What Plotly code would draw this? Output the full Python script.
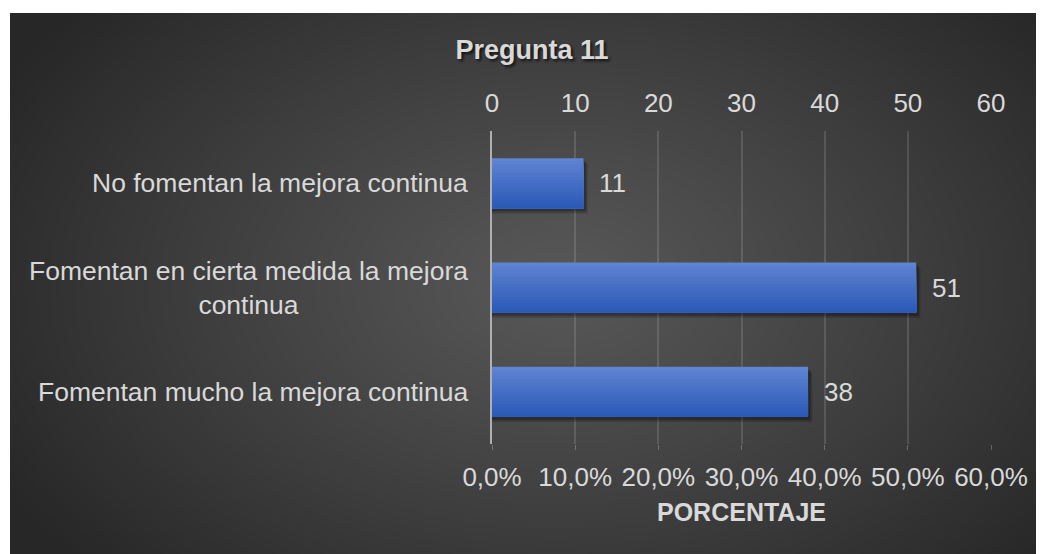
import base64
import struct
import zlib

import numpy as np
import plotly.graph_objects as go

categories = [
    "No fomentan la mejora continua",
    "Fomentan en cierta medida la mejora<br>continua",
    "Fomentan mucho la mejora continua",
]
values = [11, 51, 38]
top_ticks = [0, 10, 20, 30, 40, 50, 60]
bottom_labels = ["0,0%", "10,0%", "20,0%", "30,0%", "40,0%", "50,0%", "60,0%"]

# the page body adds an 8px margin, so work in shifted pixels
OFF = 8
W, H = 1044 - OFF, 554 - OFF
# plot area in pixels
L, R, T, B = 492 - OFF, 991 - OFF, 131 - OFF, 444 - OFF
# dark panel in pixels
PX0, PY0 = 10 - OFF, 13 - OFF
TXT = "#d9d9d9"
FONT = "Liberation Sans, Arial, sans-serif"


def gradient_png(w, h):
    """radial grey gradient, returned as data uri"""
    yy, xx = np.mgrid[0:h, 0:w].astype(float)
    d = np.sqrt(((xx - w * 0.53) / (w * 0.62)) ** 2 + ((yy - h * 0.5) / (h * 0.78)) ** 2)
    d = np.clip(d, 0, 1)
    img = (0x58 - (0x58 - 0x27) * d ** 1.1).astype(np.uint8)
    raw = b"".join(b"\x00" + img[r].tobytes() for r in range(h))

    def chunk(tag, data):
        c = struct.pack(">I", len(data)) + tag + data
        return c + struct.pack(">I", zlib.crc32(tag + data) & 0xFFFFFFFF)

    png = b"\x89PNG\r\n\x1a\n"
    png += chunk(b"IHDR", struct.pack(">IIBBBBB", w, h, 8, 0, 0, 0, 0))
    png += chunk(b"IDAT", zlib.compress(raw, 9))
    png += chunk(b"IEND", b"")
    return "data:image/png;base64," + base64.b64encode(png).decode()


pw, ph = R - L, B - T
fig = go.Figure()

bar_w = 0.48

# soft shadow under the bars
for dy, dx, a in [(0.05, 0.5, 0.18), (0.03, 0.3, 0.25)]:
    fig.add_trace(go.Bar(
        x=[v + dx for v in values], y=categories, orientation="h",
        width=bar_w, offset=-bar_w / 2 + dy,
        marker=dict(color=f"rgba(0,0,0,{a})", line_width=0),
        hoverinfo="skip", showlegend=False,
    ))

# vertical gradient: each layer runs from its start down to the bar bottom
n = 16
c_top = np.array([0x5E, 0x84, 0xD2])
c_bot = np.array([0x2C, 0x5A, 0xB8])
for i in range(n):
    t = i / (n - 1)
    c = (c_top * (1 - t) + c_bot * t).astype(int)
    fig.add_trace(go.Bar(
        x=values, y=categories, orientation="h",
        width=bar_w - i * bar_w / n, offset=-bar_w / 2 + i * bar_w / n,
        marker=dict(color=f"rgb({c[0]},{c[1]},{c[2]})", line_width=0),
        hovertemplate="%{y}: %{x}<extra></extra>", showlegend=False,
    ))

# invisible trace to drive the top axis
fig.add_trace(go.Scatter(x=top_ticks, y=[categories[0]] * len(top_ticks),
                         xaxis="x2", mode="markers", marker=dict(opacity=0),
                         hoverinfo="skip", showlegend=False))

for cat, v in zip(categories, values):
    fig.add_annotation(x=v, y=cat, text=str(v), showarrow=False,
                       xanchor="left", xshift=14,
                       font=dict(family=FONT, size=26, color=TXT))
    fig.add_annotation(x=0, xref="paper", y=cat, text=cat, showarrow=False,
                       xanchor="right", xshift=-22, align="center",
                       font=dict(family=FONT, size=26.5, color=TXT))

fig.add_layout_image(
    source=gradient_png(W - PX0, H - PY0),
    xref="paper", yref="paper",
    x=(PX0 - L) / pw, y=(B - PY0) / ph,
    sizex=(W - PX0) / pw, sizey=(H - PY0) / ph,
    xanchor="left", yanchor="top", sizing="stretch", layer="below",
)

fig.update_layout(
    width=W, height=H,
    margin=dict(l=L, r=W - R, t=T, b=H - B),
    paper_bgcolor="white", plot_bgcolor="rgba(0,0,0,0)",
    barmode="overlay",
    title=dict(text="<b>Pregunta 11</b>", x=(532 - OFF) / W, y=1 - (50 - OFF) / H,
               xref="container", yref="container", xanchor="center", yanchor="middle",
               font=dict(family=FONT, size=27, color=TXT,
                         shadow="2px 2px 3px rgba(0,0,0,0.7)")),
    xaxis=dict(range=[0, 60], tickvals=top_ticks, ticktext=bottom_labels,
               showgrid=True, gridcolor="rgba(255,255,255,0.13)", gridwidth=1.5,
               zeroline=False, showline=False,
               ticks="outside", ticklen=5, tickcolor="rgba(255,255,255,0.25)",
               ticklabelstandoff=5,
               tickfont=dict(family=FONT, size=26, color=TXT),
               title=dict(text="<b>PORCENTAJE</b>", standoff=12,
                          font=dict(family=FONT, size=25, color=TXT))),
    xaxis2=dict(range=[0, 60], overlaying="x", side="top", tickvals=top_ticks,
                showgrid=False, zeroline=False, showline=False, ticks="",
                ticklabelstandoff=13,
                tickfont=dict(family=FONT, size=26, color=TXT)),
    yaxis=dict(range=[2.5, -0.5], showticklabels=False, showgrid=False,
               zeroline=False, showline=True, linecolor="#b0b0b0", linewidth=2,
               ticks=""),
)

fig.write_html("out.html")
